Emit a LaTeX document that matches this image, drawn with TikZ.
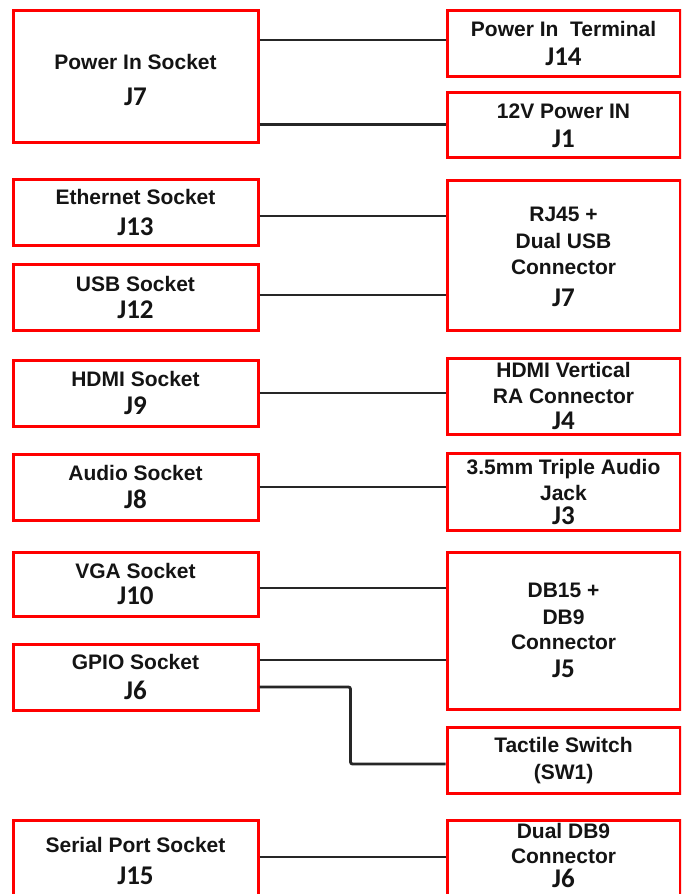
\documentclass[tikz,border=0pt]{standalone}
\usepackage{fontspec}
\setmainfont{Liberation Sans}
\newfontfamily\jfont{Carlito}
\newcommand\jlab[1]{{\jfont\bfseries\fontsize{27}{26}\selectfont #1}}
\definecolor{boxred}{HTML}{FF0000}
\definecolor{wire}{HTML}{262626}
\definecolor{txt}{HTML}{141414}
\begin{document}
\begin{tikzpicture}[x=1pt,y=-1pt,
  box/.style={draw=boxred, line width=3pt, rectangle, inner sep=0pt, align=center,
    text=txt, font=\bfseries\fontsize{21}{26}\selectfont},
  lbox/.style={box, minimum width=245pt},
  rbox/.style={box, minimum width=233pt},
  conn/.style={draw=wire, line width=2.8pt, rounded corners=2pt}]
\clip (0,0) rectangle (681,894);
\fill[white] (0,0) rectangle (681,894);
% left column
\node[lbox, minimum height=132pt] (psock)  at (135.5,76)  {\rule{0pt}{23pt}Power In Socket\\[10pt]\jlab{J7}};
\node[lbox, minimum height=66pt]  (eth)    at (135.5,212) {Ethernet Socket\\[5pt]\jlab{J13}};
\node[lbox, minimum height=66pt]  (usb)    at (135.5,297) {USB Socket\\[1pt]\jlab{J12}};
\node[lbox, minimum height=66pt]  (hdmi)   at (135.5,393) {HDMI Socket\\[2pt]\jlab{J9}};
\node[lbox, minimum height=66pt]  (audio)  at (135.5,487) {Audio Socket\\[2pt]\jlab{J8}};
\node[lbox, minimum height=64pt]  (vga)    at (135.5,584) {VGA Socket\\\jlab{J10}};
\node[lbox, minimum height=66pt]  (gpio)   at (135.5,677) {GPIO Socket\\[4pt]\jlab{J6}};
\node[lbox, minimum height=82pt]  (serial) at (135.5,861) {Serial Port Socket\\[6pt]\jlab{J15}};
% right column
\node[rbox, minimum height=66pt]  (j14)  at (563.5,43)    {Power In~ Terminal\\[3pt]\jlab{J14}};
\node[rbox, minimum height=65pt]  (j1)   at (563.5,124.5) {\rule{0pt}{18pt}12V Power IN\\[3pt]\jlab{J1}};
\node[rbox, minimum height=150pt] (rj45) at (563.5,255)   {\rule{0pt}{18pt}RJ45 +\\[1pt]Dual USB\\[0pt]Connector\\[6pt]\jlab{J7}};
\node[rbox, minimum height=76pt]  (j4)   at (563.5,396)   {HDMI Vertical\\RA Connector\\\jlab{J4}};
\node[rbox, minimum height=77pt]  (j3)   at (563.5,491.5) {3.5mm Triple Audio\\Jack\\[-2pt]\jlab{J3}};
\node[rbox, minimum height=157pt] (j5)   at (563.5,630.5) {DB15 +\\[1pt]DB9\\[-1pt]Connector\\[2pt]\jlab{J5}};
\node[rbox, minimum height=66pt]  (sw1)  at (563.5,760)   {\rule{0pt}{17pt}Tactile Switch\\[1pt](SW1)};
\node[rbox, minimum height=80pt]  (ddb9) at (563.5,860)   {Dual DB9\\[-1pt]Connector\\[-2pt]\jlab{J6}\rule[-9pt]{0pt}{9pt}};
% connector anchor points
\coordinate (a1) at ([yshift=3pt]j14.west);
\coordinate (a2) at (j1.west);
\coordinate (a3) at ([yshift=-4pt]eth.east);
\coordinate (a4) at ([yshift=2pt]usb.east);
\coordinate (a5) at (hdmi.east);
\coordinate (a6) at (audio.east);
\coordinate (a7) at ([yshift=-4pt]vga.east);
\coordinate (a8) at ([yshift=17pt]gpio.east);
\coordinate (a9) at ([yshift=-10pt]gpio.east);
\coordinate (s9) at ([yshift=-4pt]sw1.west);
\coordinate (a10) at ([yshift=4pt]serial.east);
% connectors
\draw[conn] (a1 -| psock.east) -- (a1);
\draw[conn] (a2 -| psock.east) -- (a2);
\draw[conn] (a3) -- (a3 -| rj45.west);
\draw[conn] (a4) -- (a4 -| rj45.west);
\draw[conn] (a5) -- (a5 -| j4.west);
\draw[conn] (a6) -- (a6 -| j3.west);
\draw[conn] (a7) -- (a7 -| j5.west);
\draw[conn] (a8) -- (a8 -| j5.west);
\draw[conn] (a9) -- ++(91,0) |- (s9);
\draw[conn] (a10) -- (a10 -| ddb9.west);
\end{tikzpicture}
\end{document}
